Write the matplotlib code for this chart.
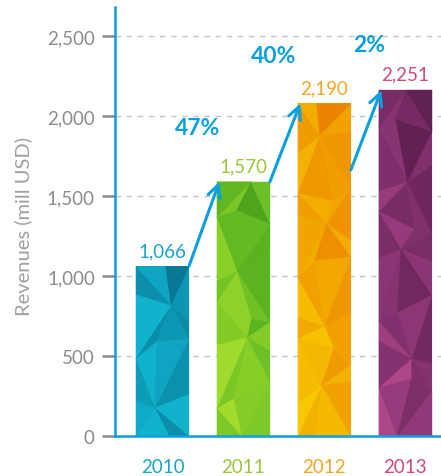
import numpy as np
import matplotlib
matplotlib.use("Agg")
import matplotlib.pyplot as plt
from matplotlib.colors import to_rgb
from matplotlib.patches import Polygon, Rectangle

# ---- data ----
years = ["2010", "2011", "2012", "2013"]
bar_heights = [1061, 1589, 2079, 2162]          # bar tops as drawn
value_labels = ["1,066", "1,570", "2,190", "2,251"]
growth_labels = ["47%", "40%", "2%"]
yticks = [0, 500, 1000, 1500, 2000, 2500]
ytick_labels = ["0", "500", "1,000", "1,500", "2,000", "2,500"]

# ---- style ----
label_colors = ["#16a6c9", "#9cc63a", "#f5a623", "#d1497c"]
palettes = [
    ["#14c4d8", "#0ea6c4", "#0a87a4", "#07708c"],
    ["#a8de2e", "#84cc28", "#62b922", "#4a9f1c"],
    ["#f7cb00", "#f3b000", "#f09a00", "#ec7c00"],
    ["#b24a8c", "#8e3676", "#742a62", "#5a1d4a"],
]
blue = "#0aa0df"
grey = "#8c8c8c"
plt.rcParams['font.family'] = ['Lato', 'DejaVu Sans']

fig = plt.figure(figsize=(4.41, 4.77), dpi=100)
ax = fig.add_axes([115/441, 1-437/477, 1-115/441, (437-8)/477])
ax.set_xlim(-0.586, 3.44)
ax.set_ylim(0, 2681)

width = 0.654
x = np.arange(len(years))

# grid
for t in yticks[1:]:
    ax.axhline(t, color="#c4c4c4", lw=1.0, ls=(0, (4, 4)), zorder=0)

def lowpoly(ax, xc, h, pal, k):
    x0, x1 = xc - width/2, xc + width/2
    cols = np.linspace(x0, x1, 3)
    nrows = max(3, int(round(h / 260)))
    rows = np.linspace(0, h, nrows + 1)
    cs = [np.array(to_rgb(c)) for c in pal]
    P = np.zeros((nrows + 1, 3, 2))
    for i, yv in enumerate(rows):
        for j, xv in enumerate(cols):
            jx = 0 if j in (0, 2) else 0.12 * np.sin(1.7 * i + 2.3 * j + k)
            jy = 0 if i in (0, nrows) else 90 * np.cos(2.1 * i + 1.3 * j + k)
            P[i, j] = (xv + jx, yv + jy)
    ax.add_patch(Rectangle((x0, 0), width, h, color=pal[1], lw=0, zorder=2))
    for i in range(nrows):
        for j in range(2):
            a, b, c, d = P[i, j], P[i, j+1], P[i+1, j+1], P[i+1, j]
            tris = [(a, b, c), (a, c, d)] if (i + j + k) % 2 == 0 else [(a, b, d), (b, c, d)]
            for t_i, tri in enumerate(tris):
                f = 0.5 + 0.5 * np.sin(0.9 * i + 1.9 * j + 2.7 * t_i + 1.3 * k)
                f = np.clip(0.4 * f + 0.4 * (i / nrows) + 0.2 * j, 0, 1)
                pos = f * 3
                lo = int(min(pos, 2.999))
                w = pos - lo
                col = cs[lo] * (1 - w) + cs[lo + 1] * w
                ax.add_patch(Polygon(tri, closed=True, facecolor=col,
                                     edgecolor=col, lw=0.3, zorder=3))

for i in range(len(years)):
    lowpoly(ax, x[i], bar_heights[i], palettes[i], i)
    ax.text(x[i], bar_heights[i] + 45, value_labels[i], ha="center",
            va="bottom", fontsize=13.5, color=label_colors[i], zorder=5)

# growth arrows
starts = [(x[0] + width/2, bar_heights[0]),
          (x[1] + width/2, bar_heights[1]),
          (x[2] + width/2, bar_heights[2] * 0.80)]
ends = [(x[i + 1] - width/2 + 0.03, bar_heights[i + 1]) for i in range(3)]
for s, e in zip(starts, ends):
    ax.annotate("", xy=e, xytext=s,
                arrowprops=dict(arrowstyle="->,head_length=0.9,head_width=0.45",
                                color=blue, lw=2.2, shrinkA=0, shrinkB=0),
                zorder=6, annotation_clip=False)

growth_pos = [(0.43, 1931), (1.377, 2375), (2.55, 2444)]
for (gx, gy), g in zip(growth_pos, growth_labels):
    ax.text(gx, gy, g, ha="center", va="center", fontsize=16.5,
            fontweight="bold", color=blue, zorder=6)

# axes styling
for s in ["top", "right"]:
    ax.spines[s].set_visible(False)
for s in ["left", "bottom"]:
    ax.spines[s].set_color(blue)
    ax.spines[s].set_linewidth(1.8)
    ax.spines[s].set_zorder(7)

ax.set_yticks(yticks)
ax.set_yticklabels(ytick_labels)
ax.tick_params(axis="y", length=9.5, width=1.8, color=grey, labelcolor=grey,
               labelsize=13.5, pad=5)
ax.set_xticks(x)
ax.set_xticklabels(years)
ax.tick_params(axis="x", length=0, labelsize=13.5, pad=16)
for lbl, c in zip(ax.get_xticklabels(), label_colors):
    lbl.set_color(c)

ax.set_ylabel("Revenues (mill USD)", fontsize=14.5, color="#a0a0a0")
ax.yaxis.set_label_coords(-0.255, 0.49)

fig.savefig("out.png", dpi=100)
